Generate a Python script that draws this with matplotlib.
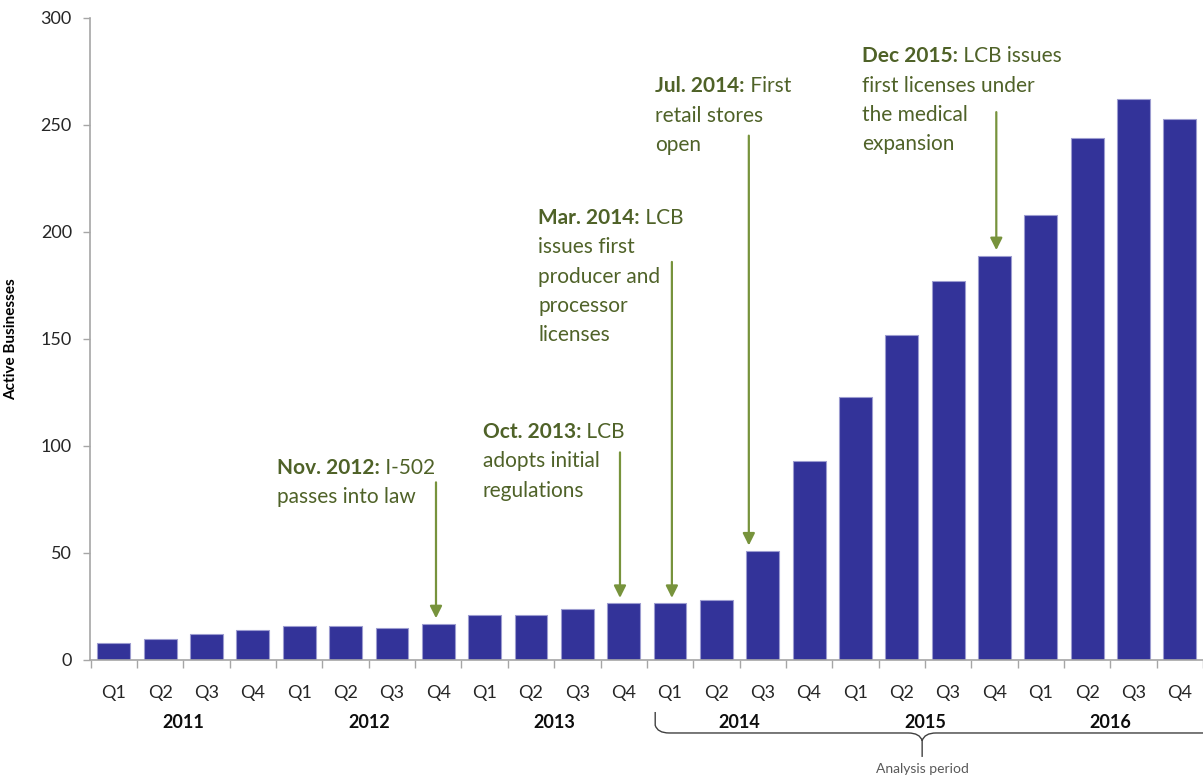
import matplotlib
matplotlib.use("Agg")
import matplotlib.pyplot as plt
import numpy as np
from matplotlib.path import Path
from matplotlib.patches import PathPatch
import matplotlib.transforms as mtransforms

plt.rcParams["font.family"] = ["Lato", "DejaVu Sans"]

YEARS = ["2011", "2012", "2013", "2014", "2015", "2016"]
QUARTERS = ["Q1", "Q2", "Q3", "Q4"]
ACTIVE = [8, 10, 12, 14,
          16, 16, 15, 17,
          21, 21, 24, 26.5,
          26.5, 28, 51, 93,
          123, 152, 177, 189,
          208, 244, 262, 253]

# (bar index, bold lead, rest of first line, following lines)
NOTES = [
    (7, "Nov. 2012:", " I-502", ["passes into law"]),
    (11, "Oct. 2013:", " LCB", ["adopts initial", "regulations"]),
    (12, "Mar. 2014:", " LCB", ["issues first", "producer and", "processor", "licenses"]),
    (14, "Jul. 2014:", " First", ["retail stores", "open"]),
    (19, "Dec 2015:", " LCB issues", ["first licenses under", "the medical", "expansion"]),
]
# layout of notes: text left x (data), first line y (data), arrow x, arrow start y
NOTE_LAYOUT = [
    (3.53, 89.7, 6.95, 83),
    (7.96, 106.5, 10.92, 97),
    (9.16, 206.5, 12.04, 186),
    (11.68, 268, 13.7, 245),
    (16.15, 282, 19.04, 256),
]

BAR_COLOR = "#333399"
NOTE_DARK = "#4F6228"
ARROW_GREEN = "#77933C"
AXIS_GREY = "#A6A6A6"

labels = QUARTERS * len(YEARS)
x = np.arange(len(ACTIVE))

fig = plt.figure(figsize=(12.03, 7.77), dpi=100)
ax = fig.add_axes([0.0748, 0.1506, 0.9252, 0.8263])

ax.bar(x, ACTIVE, width=0.71, color=BAR_COLOR, edgecolor="#9C9CD0", linewidth=0.8, zorder=2)

ax.set_xlim(-0.516, 23.43)
ax.set_ylim(0, 300)
ax.set_yticks(np.arange(0, 301, 50))
ax.tick_params(axis="y", length=5, width=1, color=AXIS_GREY, labelsize=13, labelcolor="#262626", pad=8)

ax.set_xticks(np.arange(-0.5, len(ACTIVE), 1))
ax.set_xticklabels([])
ax.tick_params(axis="x", which="major", length=6, width=1, color=AXIS_GREY)
ax.set_xticks(x, minor=True)
ax.set_xticklabels(labels, minor=True)
ax.tick_params(axis="x", which="minor", length=0, labelsize=13, labelcolor="#262626", pad=18)

for side in ["top", "right"]:
    ax.spines[side].set_visible(False)
for side in ["left", "bottom"]:
    ax.spines[side].set_color(AXIS_GREY)
    ax.spines[side].set_linewidth(1.2)

ax.set_ylabel("Active Businesses", fontsize=11, fontweight="bold")
ax.yaxis.set_label_coords(-0.0647, 0.5)

trans = mtransforms.blended_transform_factory(ax.transData, ax.transAxes)
for i, year in enumerate(YEARS):
    ax.text(4 * i + 1.5, -0.098, year, transform=trans, ha="center", va="center",
            fontsize=13, fontweight="bold", color="#0D0D0D")

# analysis period bracket
xl, xt, xr = 11.68, 17.44, 24.5
yt, yh, yb = -0.081, -0.1137, -0.151
verts = [(xl, yt), (xl, yh + 0.012), (xl + 0.05, yh), (xl + 0.3, yh),
         (xt - 0.3, yh), (xt - 0.05, yh), (xt, yh - 0.012), (xt, yb),
         (xt, yh - 0.012), (xt + 0.05, yh), (xt + 0.3, yh), (xr, yh)]
codes = [Path.MOVETO, Path.LINETO, Path.CURVE3, Path.CURVE3,
         Path.LINETO, Path.CURVE3, Path.CURVE3, Path.LINETO,
         Path.MOVETO, Path.CURVE3, Path.CURVE3, Path.LINETO]
ax.add_patch(PathPatch(Path(verts, codes), transform=trans, fill=False,
                       edgecolor="#404040", linewidth=1.0, clip_on=False))
ax.text(xt, -0.170, "Analysis period", transform=trans, ha="center", va="center",
        fontsize=10, color="#595959")

line_step = 13.7
for (idx, bold, rest, lines), (tx, ty, axx, ay) in zip(NOTES, NOTE_LAYOUT):
    b = ax.text(tx, ty, bold, fontsize=15, fontweight="bold", color=NOTE_DARK,
                ha="left", va="center", zorder=4)
    ax.annotate(rest, xy=(1, 0.5), xycoords=b, ha="left", va="center",
                fontsize=15, color=NOTE_DARK, zorder=4)
    for k, line in enumerate(lines):
        ax.text(tx, ty - (k + 1) * line_step, line, fontsize=15, color=NOTE_DARK,
                ha="left", va="center", zorder=4)
    ax.annotate("", xy=(axx, ACTIVE[idx] + 2.5), xytext=(axx, ay),
                arrowprops=dict(arrowstyle="-|>", color=ARROW_GREEN, lw=1.6,
                                mutation_scale=18, shrinkA=0, shrinkB=0), zorder=3)

fig.savefig("out.png", dpi=100)
